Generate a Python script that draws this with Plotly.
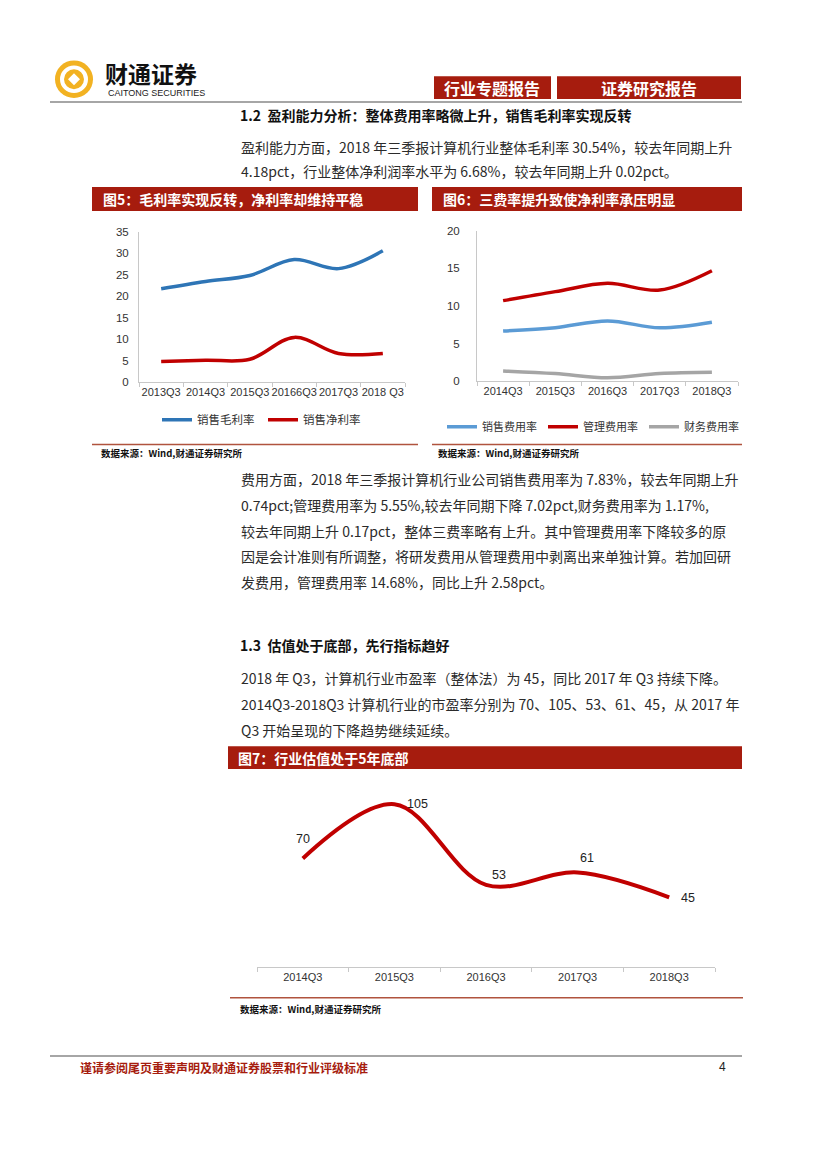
import plotly.graph_objects as go

W, H = 827, 1170
def px(x): return x / W
def py(y): return 1 - y / H

# ---------------- data ----------------
cats5 = ["2013Q3", "2014Q3", "2015Q3", "20166Q3", "2017Q3", "2018 Q3"]
gross_margin = [21.7, 23.4, 24.8, 28.5, 26.4, 30.54]
net_margin = [4.8, 5.1, 5.3, 10.4, 6.66, 6.68]

cats6 = ["2014Q3", "2015Q3", "2016Q3", "2017Q3", "2018Q3"]
sales_exp = [6.65, 7.1, 8.0, 7.09, 7.83]
admin_exp = [10.7, 11.9, 13.0, 12.1, 14.68]
fin_exp = [1.35, 1.0, 0.45, 1.0, 1.17]

cats7 = ["2014Q3", "2015Q3", "2016Q3", "2017Q3", "2018Q3"]
pe = [70, 105, 53, 61, 45]
pe_label_xshift = [0, 23, 13, 9, 19]
pe_label_yshift = [19, 0, 10, 14, -1]

RED = "#A61C0E"
LINE_RED = "#C00000"
BLUE = "#2E75B6"
LBLUE = "#5B9BD5"
GREY = "#A5A5A5"
CJK = "Noto Sans CJK SC"
LAT = "Liberation Sans"
TXT = "#2B2B2B"

fig = go.Figure()

# chart 5
fig.add_trace(go.Scatter(x=cats5, y=gross_margin, name="销售毛利率", mode="lines",
                         line=dict(color=BLUE, width=3.5, shape="spline"),
                         xaxis="x", yaxis="y", legend="legend"))
fig.add_trace(go.Scatter(x=cats5, y=net_margin, name="销售净利率", mode="lines",
                         line=dict(color=LINE_RED, width=3.5, shape="spline"),
                         xaxis="x", yaxis="y", legend="legend"))
# chart 6
fig.add_trace(go.Scatter(x=cats6, y=sales_exp, name="销售费用率", mode="lines",
                         line=dict(color=LBLUE, width=3.5, shape="spline"),
                         xaxis="x2", yaxis="y2", legend="legend2"))
fig.add_trace(go.Scatter(x=cats6, y=admin_exp, name="管理费用率", mode="lines",
                         line=dict(color=LINE_RED, width=3.5, shape="spline"),
                         xaxis="x2", yaxis="y2", legend="legend2"))
fig.add_trace(go.Scatter(x=cats6, y=fin_exp, name="财务费用率", mode="lines",
                         line=dict(color=GREY, width=3.5, shape="spline"),
                         xaxis="x2", yaxis="y2", legend="legend2"))
# chart 7
fig.add_trace(go.Scatter(x=cats7, y=pe, name="市盈率", mode="lines",
                         line=dict(color=LINE_RED, width=4, shape="spline"),
                         xaxis="x3", yaxis="y3", showlegend=False))

tickfont = dict(family=LAT, size=11.5, color="#333333")
axline = "#C8C8C8"

def xax(domain, n, anchor):
    return dict(domain=domain, anchor=anchor, type="category", range=[-0.5, n - 0.5],
                showline=True, linecolor=axline, linewidth=1, ticks="outside",
                tickson="boundaries", ticklen=4, tickcolor=axline, showgrid=False,
                tickfont=dict(family=LAT, size=11, color="#333333"), tickangle=0, fixedrange=True)

def yax(domain, rng, dtick, anchor, standoff=6, visible=True):
    return dict(domain=domain, anchor=anchor, range=rng, dtick=dtick, showline=visible,
                linecolor=axline, linewidth=1, showgrid=False, zeroline=False,
                tickfont=tickfont, visible=visible, ticks="", ticklabelstandoff=standoff,
                fixedrange=True)

fig.update_layout(
    width=W, height=H, margin=dict(l=0, r=0, t=0, b=0), autosize=False,
    paper_bgcolor="white", plot_bgcolor="rgba(0,0,0,0)",
    xaxis=xax([px(139), px(405)], 6, "y"),
    yaxis=yax([py(380), py(228)], [0, 35], 5, "x", standoff=7),
    xaxis2=xax([px(477), px(738)], 5, "y2"),
    yaxis2=yax([py(379), py(227)], [0, 20], 5, "x2", standoff=14),
    xaxis3=xax([px(257), px(715)], 5, "y3"),
    yaxis3=yax([py(971), py(783)], [0, 120], 20, "x3", visible=False),
    legend=dict(x=px(157), y=py(418), xanchor="left", yanchor="middle", orientation="h",
                font=dict(family=CJK, size=11.5, color="#333333"), bgcolor="rgba(0,0,0,0)",
                entrywidth=61, entrywidthmode="pixels", itemwidth=30),
    legend2=dict(x=px(442), y=py(425), xanchor="left", yanchor="middle", orientation="h",
                 font=dict(family=CJK, size=11, color="#333333"), bgcolor="rgba(0,0,0,0)",
                 entrywidth=56, entrywidthmode="pixels", itemwidth=30),
)

shapes = []
annotations = []

def rect(x0, y0, x1, y1, color):
    shapes.append(dict(type="rect", xref="paper", yref="paper", x0=px(x0), x1=px(x1),
                       y0=py(y1), y1=py(y0), fillcolor=color, line=dict(width=0), layer="below"))

def hline(x0, x1, y, color, width):
    shapes.append(dict(type="line", xref="paper", yref="paper", x0=px(x0), x1=px(x1),
                       y0=py(y), y1=py(y), line=dict(color=color, width=width)))

def circ(cx, cy, r, color):
    shapes.append(dict(type="circle", xref="paper", yref="paper", x0=px(cx - r), x1=px(cx + r),
                       y0=py(cy + r), y1=py(cy - r), fillcolor=color, line=dict(width=0)))

def text(x, y, s, size=13, color=TXT, bold=False, anchor="left", family=CJK):
    annotations.append(dict(xref="paper", yref="paper", x=px(x), y=py(y), text=(f"<b>{s}</b>" if bold else s),
                            showarrow=False, xanchor=anchor, yanchor="middle",
                            font=dict(family=family, size=size, color=color)))

# logo
GOLD = "#F2B222"
circ(74, 74, 19, GOLD)
circ(74, 74, 14, "white")
circ(74, 74, 10, GOLD)
shapes.append(dict(type="path", xref="paper", yref="paper",
                   path=f"M {px(74)} {py(68)} L {px(80)} {py(74)} L {px(74)} {py(80)} L {px(68)} {py(74)} Z",
                   fillcolor="white", line=dict(width=0)))
text(103, 68, "财通证券", size=23, color="#111111", bold=True)
text(106, 88, "CAITONG SECURITIES", size=9, color="#222222", family=LAT)

# header bars
rect(434, 71, 551, 94, RED)
rect(557, 71, 741, 94, RED)
text(492, 82.5, "行业专题报告", size=16, color="white", bold=True, anchor="center")
text(649, 82.5, "证券研究报告", size=16, color="white", bold=True, anchor="center")
hline(50, 742, 97, "#A6A6A6", 2)

# section 1.2
text(238, 110, "1.2  盈利能力分析：整体费用率略微上升，销售毛利率实现反转", size=14, color="#111111", bold=True)
text(239, 142, "盈利能力方面，2018 年三季报计算机行业整体毛利率 30.54%，较去年同期上升", size=14)
text(239, 167, "4.18pct，行业整体净利润率水平为 6.68%，较去年同期上升 0.02pct。", size=14)

# figure 5/6 titles
rect(92, 183, 418, 207, RED)
rect(432, 183, 742, 207, RED)
text(101, 195, "图5：毛利率实现反转，净利率却维持平稳", size=14, color="white", bold=True)
text(441, 195, "图6：三费率提升致使净利率承压明显", size=14, color="white", bold=True)

hline(92, 418, 443, "#B0533E", 1.5)
hline(432, 742, 443, "#B0533E", 1.5)
text(99, 452, "数据来源：Wind,财通证券研究所", size=9.5, color="#111111", bold=True)
text(436, 452, "数据来源：Wind,财通证券研究所", size=9.5, color="#111111", bold=True)

para2 = [
    "费用方面，2018 年三季报计算机行业公司销售费用率为 7.83%，较去年同期上升",
    "0.74pct;管理费用率为 5.55%,较去年同期下降 7.02pct,财务费用率为 1.17%,",
    "较去年同期上升 0.17pct，整体三费率略有上升。其中管理费用率下降较多的原",
    "因是会计准则有所调整，将研发费用从管理费用中剥离出来单独计算。若加回研",
    "发费用，管理费用率 14.68%，同比上升 2.58pct。",
]
for i, line in enumerate(para2):
    text(239, 478 + 26 * i, line, size=14)

# section 1.3
text(238, 646, "1.3  估值处于底部，先行指标趋好", size=14, color="#111111", bold=True)
para3 = [
    "2018 年 Q3，计算机行业市盈率（整体法）为 45，同比 2017 年 Q3 持续下降。",
    "2014Q3-2018Q3 计算机行业的市盈率分别为 70、105、53、61、45，从 2017 年",
    "Q3 开始呈现的下降趋势继续延续。",
]
for i, line in enumerate(para3):
    text(239, 679 + 26.5 * i, line, size=14)

rect(228, 748, 742, 771, RED)
text(236, 759.5, "图7：行业估值处于5年底部", size=14, color="white", bold=True)
hline(230, 743, 1002, "#B0533E", 1.5)
text(238, 1013, "数据来源：Wind,财通证券研究所", size=9.5, color="#111111", bold=True)

# chart 7 data labels (anchored on the data through the axes)
for c, v, dx, dy in zip(cats7, pe, pe_label_xshift, pe_label_yshift):
    annotations.append(dict(xref="x3", yref="y3", x=c, y=v, text=str(v), showarrow=False,
                            xanchor="center", yanchor="middle", xshift=dx, yshift=dy,
                            font=dict(family=LAT, size=12.5, color="#222222")))

# footer
hline(50, 742, 1061, "#A6A6A6", 2)
text(78, 1072, "谨请参阅尾页重要声明及财通证券股票和行业评级标准", size=12, color=RED, bold=True)
text(722, 1072, "4", size=12, color="#222222", family=LAT, anchor="center")

fig.update_layout(shapes=shapes, annotations=annotations)
# remove the browser's default page margin so the figure fills the window exactly
fig.write_html("out.html", config={"displayModeBar": False},
               post_script="document.body.style.margin='0';document.body.style.overflow='hidden';")
